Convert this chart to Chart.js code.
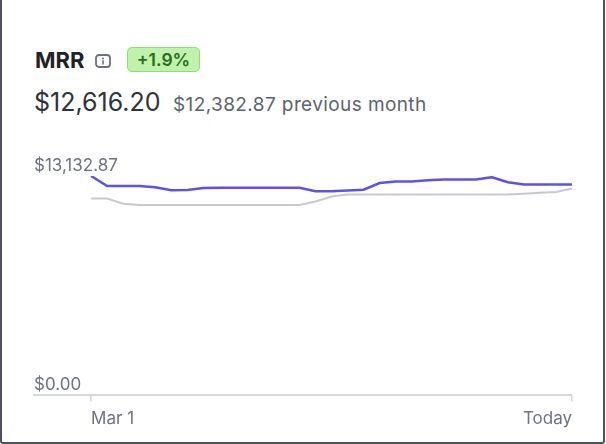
<!DOCTYPE html>
<html>
<head>
<meta charset="utf-8">
<script src="https://cdn.jsdelivr.net/npm/chart.js@4"></script>
<style>
  html, body { margin:0; padding:0; background:#fff; width:606px; height:444px; overflow:hidden; }
  body { position:relative; font-family:Inter, "Liberation Sans", Arial, sans-serif; }
  #card { position:absolute; left:0; top:-20px; width:605px; height:464px; box-sizing:border-box;
          border:2px solid #4d5160; border-radius:3px; background:#fff; }
  .t { position:absolute; white-space:nowrap; line-height:1; }
  #title { left:35px; top:48.5px; font-weight:700; font-size:22px; color:#1f2227; }
  #icon { position:absolute; left:95px; top:54px; }
  #badge { position:absolute; left:127px; top:47px; width:73px; height:25px; box-sizing:border-box;
           border:1px solid #93d97e; background:#bff2ab; border-radius:5px;
           font-weight:600; font-size:17.5px; color:#2d6b22; text-align:center; line-height:23px; }
  #value { left:34px; top:89.5px; font-size:25px; color:#2f333a; }
  #prev { left:173px; top:94.5px; font-size:19px; letter-spacing:0.4px; color:#5d636e; }
  #c { position:absolute; left:0; top:0; }
</style>
</head>
<body>
<div id="card"></div>
<div id="title" class="t">MRR</div>
<svg id="icon" width="16" height="14" viewBox="0 0 16 14">
  <rect x="1" y="1" width="14" height="12" rx="3" ry="3" fill="none" stroke="#6d717c" stroke-width="1.8"/>
  <circle cx="8" cy="4.6" r="1" fill="#6d717c"/>
  <rect x="7.2" y="6.3" width="1.6" height="4.2" fill="#6d717c"/>
</svg>
<div id="badge">+1.9%</div>
<div id="value" class="t">$12,616.20</div>
<div id="prev" class="t">$12,382.87 previous month</div>
<canvas id="c" width="606" height="444"></canvas>
<script>
// Daily points, Mar 1 ... Today
const days = ["Mar 1","Mar 2","Mar 3","Mar 4","Mar 5","Mar 6","Mar 7","Mar 8","Mar 9","Mar 10",
  "Mar 11","Mar 12","Mar 13","Mar 14","Mar 15","Mar 16","Mar 17","Mar 18","Mar 19","Mar 20",
  "Mar 21","Mar 22","Mar 23","Mar 24","Mar 25","Mar 26","Mar 27","Mar 28","Mar 29","Mar 30","Today"];
const mrrCurrent = [13132.87,12530,12530,12530,12458,12277,12289,12409,12428,12428,
  12428,12428,12428,12428,12217,12211,12265,12307,12711,12807,
  12807,12873,12927,12927,12927,13060,12759,12626,12620,12620,12616.20];
const mrrPrevious = [11783,11783,11464,11385,11385,11385,11385,11385,11385,11385,
  11385,11385,11385,11385,11602,11897,12024,12024,12024,12024,
  12024,12024,12024,12024,12024,12024,12024,12072,12126,12168,12382.87];
const yTickValues = [0, 13132.87];
const yTickLabels = ["$0.00", "$13,132.87"];
const xTickLabels = ["Mar 1", "Today"];

Chart.defaults.font.family = 'Inter, "Liberation Sans", Arial, sans-serif';
Chart.defaults.color = '#6e7380';

const lastIdx = days.length - 1;
new Chart(document.getElementById('c'), {
  type: 'line',
  data: {
    datasets: [
      { label: 'Previous month', data: mrrPrevious.map((v,i)=>({x:i,y:v})),
        borderColor:'#c6c9cf', borderWidth:2, pointRadius:0, tension:0, fill:false },
      { label: 'MRR', data: mrrCurrent.map((v,i)=>({x:i,y:v})),
        borderColor:'#5b51ee', borderWidth:2.5, pointRadius:0, tension:0, fill:false }
    ]
  },
  options: {
    responsive:false, animation:false, devicePixelRatio:1,
    layout: { padding: { left:26, right:34, top:176, bottom:8 } },
    plugins: { legend:{display:false}, tooltip:{enabled:false} },
    scales: {
      x: {
        type:'linear', min:-3.5625, max:lastIdx,
        afterBuildTicks: s => { s.ticks = [{value:0},{value:lastIdx}]; },
        ticks: { align:'inner', maxRotation:0, padding:7, font:{size:17}, color:'#6e7380',
                 callback: v => v === 0 ? xTickLabels[0] : xTickLabels[1] },
        grid: { display:true, drawOnChartArea:false, drawTicks:true, tickLength:7, color:'#d6d8dd', lineWidth:1.5 },
        border: { display:true, color:'#d6d8dd', width:2 }
      },
      y: {
        min:0, max:yTickValues[1],
        afterBuildTicks: s => { s.ticks = yTickValues.map(v=>({value:v})); },
        ticks: { mirror:true, padding:0, labelOffset:-10, font:{size:17}, color:'#6e7380',
                 callback: v => yTickLabels[yTickValues.indexOf(v)] },
        grid: { display:false },
        border: { display:false }
      }
    }
  }
});
</script>
</body>
</html>
